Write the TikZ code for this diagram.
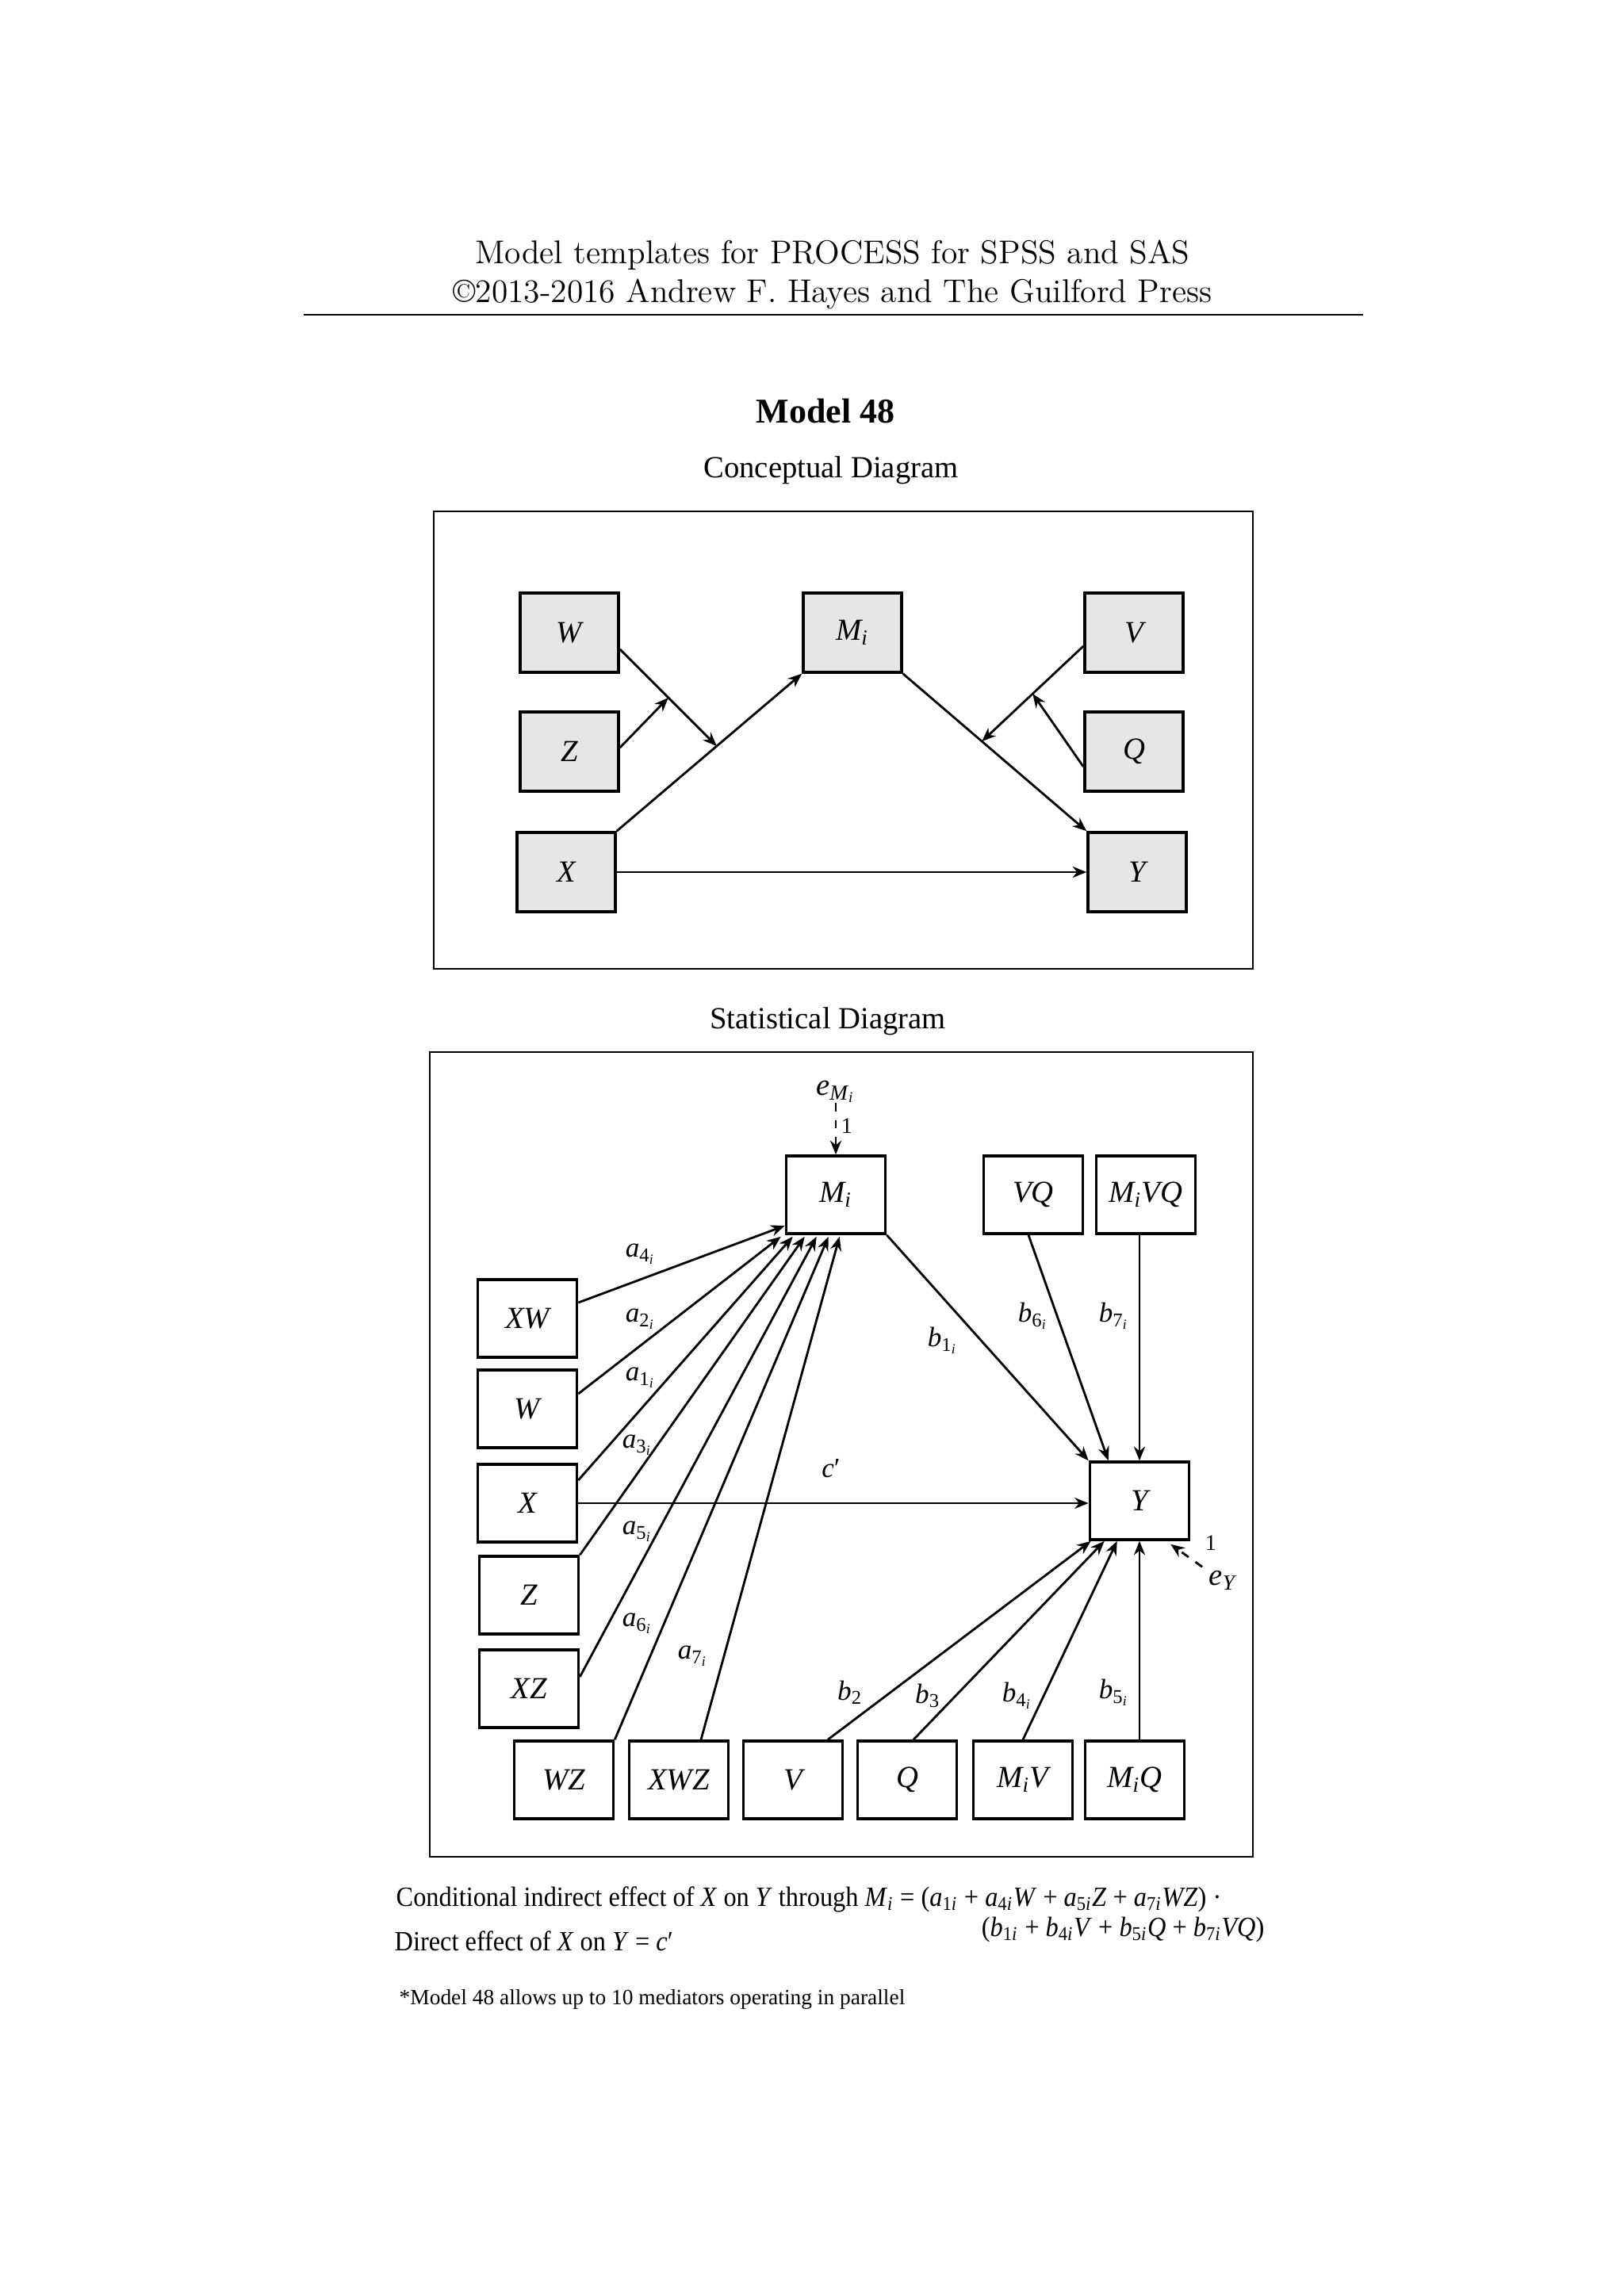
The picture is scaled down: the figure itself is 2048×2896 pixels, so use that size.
\documentclass[tikz,border=0pt]{standalone}
\usepackage{fontspec}
\newfontfamily\tms{Liberation Serif}
\newfontfamily\tmsc[FakeStretch=0.92]{Liberation Serif}
\usetikzlibrary{arrows.meta,calc}
\definecolor{boxgray}{RGB}{230,230,230}
\newcommand{\vsub}[2]{\textit{#1}\textsubscript{#2}}
\newcommand{\ii}{\textit{i}}
\tikzset{
  cbox/.style={draw, line width=1pt, fill=boxgray, minimum width=1.24cm, minimum height=1.0cm, inner sep=0pt, font=\tms\fontsize{11}{13}\selectfont\itshape},
  sbox/.style={draw, line width=1pt, minimum width=1.25cm, minimum height=0.98cm, inner sep=0pt, font=\tms\fontsize{11}{13}\selectfont\itshape},
  arr/.style={-{Stealth[length=5pt,width=4pt]}, line width=0.8pt},
  lab/.style={font=\tms\fontsize{10}{12}\selectfont, inner sep=0pt},
  frame/.style={draw, line width=0.6pt},
  ttl/.style={font=\tms\fontsize{11}{13}\selectfont, inner sep=0pt},
  foot/.style={font=\tmsc\fontsize{10}{12}\selectfont, inner sep=0pt}
}
\begin{document}
\begin{tikzpicture}[x=0.01cm,y=-0.01cm]
\useasboundingbox (0,0) rectangle (2048,2896);
\fill[white] (0,0) rectangle (2048,2896);
% header
\node[inner sep=0pt, font=\fontsize{11.8}{14}\selectfont] (h1) at (1050,322) {Model templates for PROCESS for SPSS and SAS};
\node[inner sep=0pt, font=\fontsize{11.8}{14}\selectfont] (h2) at (1050,371) {\textcopyright2013-2016 Andrew F. Hayes and The Guilford Press};
\draw[line width=0.8pt] (383,397) -- (1719,397);
\node[inner sep=0pt, font=\tms\fontsize{12.5}{14}\selectfont\bfseries] (title) at (1041,518) {Model 48};
\node[ttl] (ctitle) at (1048,593) {Conceptual Diagram};
\draw[frame] (547,645) rectangle (1580,1222);
% conceptual
\node[cbox] (cW) at (718,798) {W};
\node[cbox] (cM) at (1075,798) {M\textsubscript{i}};
\node[cbox] (cV) at (1430,798) {V};
\node[cbox] (cZ) at (718,948) {Z};
\node[cbox] (cQ) at (1430,948) {Q};
\node[cbox] (cX) at (714,1100) {X};
\node[cbox] (cY) at (1434,1100) {Y};
\draw[arr] (cX.north east) -- (cM.south west) coordinate[pos=0.54] (cxm);
\draw[arr] ($(cW.east)+(0,21)$) -- (cxm) coordinate[pos=0.5] (cwm);
\draw[arr] ($(cZ.east)+(0,-5)$) -- (cwm);
\draw[arr] (cM.south east) -- (cY.north west) coordinate[pos=0.43] (cmy);
\draw[arr] ($(cV.west)+(0,17)$) -- (cmy) coordinate[pos=0.5] (cvm);
\draw[arr] ($(cQ.west)+(0,19)$) -- (cvm);
\draw[arr] (cX) -- (cY);
% statistical
\node[ttl] (stitle) at (1044,1288) {Statistical Diagram};
\draw[frame] (542,1327) rectangle (1580,2342);
\node[sbox] (sM) at (1054,1507) {M\textsubscript{i}};
\node[sbox] (sVQ) at (1303,1507) {VQ};
\node[sbox] (sMVQ) at (1445,1507) {M\textsubscript{i}VQ};
\node[sbox] (sXW) at (665,1663) {XW};
\node[sbox] (sW) at (665,1777) {W};
\node[sbox] (sX) at (665,1896) {X};
\node[sbox] (sZ) at (667,2012) {Z};
\node[sbox] (sXZ) at (667,2130) {XZ};
\node[sbox] (sWZ) at (711,2245) {WZ};
\node[sbox] (sXWZ) at (856,2245) {XWZ};
\node[sbox] (sV) at (1000,2245) {V};
\node[sbox] (sQ) at (1144,2245) {Q};
\node[sbox] (sMV) at (1290,2245) {M\textsubscript{i}V};
\node[sbox] (sMQ) at (1431,2245) {M\textsubscript{i}Q};
\node[sbox] (sY) at (1437,1893) {Y};
% error terms
\node[lab, font=\tms\fontsize{11}{13}\selectfont] (eM) at (1054,1377) {\vsub{e}{\textit{M}\textsubscript{\textit{i}}}};
\draw[arr, dashed] (eM.south) -- (sM.north);
\node[lab, font=\tms\fontsize{8}{10}\selectfont] (oneM) at (1068,1420) {1};
\node[lab, font=\tms\fontsize{11}{13}\selectfont] (eY) at (1543,1993) {\vsub{e}{\textit{Y}}};
\draw[arr, dashed] ($(eY.north west)+(-8,-4)$) -- ($(sY.south east)+(-25,4)$);
\node[lab, font=\tms\fontsize{8}{10}\selectfont] (oneY) at (1527,1946) {1};
% paths to M
\draw[arr] ($(sXW.east)+(0,-20)$) -- ($(sM.west)+(0,39)$);
\draw[arr] ($(sW.east)+(0,-19)$) -- ($(sM.south west)+(-5,2)$);
\draw[arr] ($(sX.east)+(0,-29)$) -- ($(sM.south west)+(10,2)$);
\draw[arr] (sZ.north east) -- ($(sM.south west)+(25,2)$);
\draw[arr] ($(sXZ.east)+(0,-15)$) -- ($(sM.south west)+(40,2)$);
\draw[arr] (sWZ.north east) -- ($(sM.south west)+(55,2)$);
\draw[arr] ($(sXWZ.north)+(28,0)$) -- ($(sM.south west)+(69,2)$);
% paths to Y
\draw[arr] (sM.south east) -- (sY.north west);
\draw[arr] ($(sVQ.south)+(-6,0)$) -- ($(sY.north west)+(25,0)$);
\draw[arr] (sMVQ.south -| sY.north) -- (sY.north);
\draw[arr] (sX.east) -- (sX.east -| sY.west);
\draw[arr] ($(sV.north)+(44,0)$) -- ($(sY.south west)+(3,0)$);
\draw[arr] ($(sQ.north)+(8,0)$) -- ($(sY.south west)+(20,0)$);
\draw[arr] (sMV.north) -- ($(sY.south west)+(36,0)$);
\draw[arr] (sMQ.north -| sY.south) -- (sY.south);
% labels
\node[lab] (la4) at (808,1582) {\vsub{a}{4\textsubscript{\ii}}};
\node[lab] (la2) at (808,1664) {\vsub{a}{2\textsubscript{\ii}}};
\node[lab] (la1) at (808,1738) {\vsub{a}{1\textsubscript{\ii}}};
\node[lab] (la3) at (804,1823) {\vsub{a}{3\textsubscript{\ii}}};
\node[lab] (la5) at (804,1932) {\vsub{a}{5\textsubscript{\ii}}};
\node[lab] (la6) at (804,2048) {\vsub{a}{6\textsubscript{\ii}}};
\node[lab] (la7) at (874,2089) {\vsub{a}{7\textsubscript{\ii}}};
\node[lab] (lc) at (1048,1852) {\textit{c}′};
\node[lab] (lb1) at (1189,1691) {\vsub{b}{1\textsubscript{\ii}}};
\node[lab] (lb6) at (1303,1660) {\vsub{b}{6\textsubscript{\ii}}};
\node[lab] (lb7) at (1405,1660) {\vsub{b}{7\textsubscript{\ii}}};
\node[lab] (lb2) at (1072,2135) {\vsub{b}{2}};
\node[lab] (lb3) at (1170,2139) {\vsub{b}{3}};
\node[lab] (lb4) at (1283,2139) {\vsub{b}{4\textsubscript{\ii}}};
\node[lab] (lb5) at (1405,2135) {\vsub{b}{5\textsubscript{\ii}}};
% footer
\node[foot, anchor=base west] (f1) at (499,2404) {Conditional indirect effect of \textit{X} on \textit{Y} through \vsub{M}{\ii} = (\vsub{a}{1\ii} + \vsub{a}{4\ii}\textit{W} + \vsub{a}{5\ii}\textit{Z} + \vsub{a}{7\ii}\textit{WZ}) ·};
\node[foot, anchor=base east] (f2) at (1595,2442) {(\vsub{b}{1\ii} + \vsub{b}{4\ii}\textit{V} + \vsub{b}{5\ii}\textit{Q} + \vsub{b}{7\ii}\textit{VQ})};
\node[foot, anchor=base west] (f3) at (497,2460) {Direct effect of \textit{X} on \textit{Y} = \textit{c}′};
\node[foot, anchor=base west, font=\tms\fontsize{7.8}{10}\selectfont] (f4) at (503,2528) {*Model 48 allows up to 10 mediators operating in parallel};
\end{tikzpicture}
\end{document}
